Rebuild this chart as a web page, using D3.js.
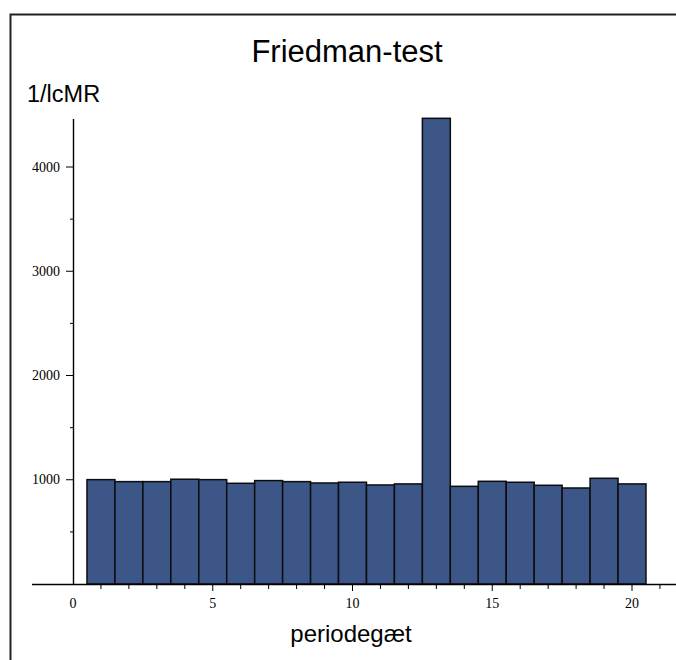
<!DOCTYPE html>
<html><head><meta charset="utf-8">
<script src="https://cdn.jsdelivr.net/npm/d3@7"></script>
<style>body{margin:0;background:#fff}svg{display:block}</style>
</head><body>
<script>
const periods = d3.range(1, 21);
const values = [1001, 982, 982, 1005, 1001, 966, 992, 982, 969, 976, 950, 960, 4467, 937, 985, 976, 947, 921, 1014, 960];
const xTickLabels = [0, 5, 10, 15, 20];
const yTickLabels = [1000, 2000, 3000, 4000];
const title = "Friedman-test";
const yLabel = "1/lcMR";
const xLabel = "periodegæt";

const W = 676, H = 660;
const svg = d3.select("body").append("svg").attr("width", W).attr("height", H);

const x = d3.scaleLinear().domain([0, 20]).range([73, 632]);
const y = d3.scaleLinear().domain([0, 4000]).range([584, 167]);

// frame
svg.append("path").attr("d", `M10.5,660 V14.5 H676`).attr("fill", "none")
  .attr("stroke", "#222").attr("stroke-width", 2);

// titles
svg.append("text").attr("x", 347).attr("y", 62).attr("text-anchor", "middle")
  .attr("font-family", "Liberation Sans, Arial, sans-serif").attr("font-size", 31)
  .attr("fill", "#000").text(title);
svg.append("text").attr("x", 27).attr("y", 102)
  .attr("font-family", "Liberation Sans, Arial, sans-serif").attr("font-size", 23.5)
  .attr("fill", "#000").text(yLabel);
svg.append("text").attr("x", 351).attr("y", 642).attr("text-anchor", "middle")
  .attr("font-family", "Liberation Sans, Arial, sans-serif").attr("font-size", 24)
  .attr("fill", "#000").text(xLabel);

// bars
const bw = x(1) - x(0);
svg.append("g").selectAll("rect").data(periods).join("rect")
  .attr("x", d => x(d - 0.5))
  .attr("y", (d, i) => y(values[i]))
  .attr("width", bw)
  .attr("height", (d, i) => y(0) - y(values[i]))
  .attr("fill", "#3c5688")
  .attr("stroke", "#0d0d0d").attr("stroke-width", 1.5);

// x axis
const xAxis = svg.append("g");
xAxis.append("line").attr("x1", 32).attr("x2", 676).attr("y1", 584.5).attr("y2", 584.5)
  .attr("stroke", "#000").attr("stroke-width", 1.4);
xAxis.selectAll("line.t").data(d3.range(1, 22)).join("line").attr("class", "t")
  .attr("x1", d => x(d)).attr("x2", d => x(d))
  .attr("y1", 584).attr("y2", d => d % 5 === 0 ? 591 : 589)
  .attr("stroke", "#000").attr("stroke-width", 1);
xAxis.selectAll("text").data(xTickLabels).join("text")
  .attr("x", d => x(d)).attr("y", 608).attr("text-anchor", "middle")
  .attr("font-family", "Liberation Serif, Times New Roman, serif").attr("font-size", 14)
  .text(d => d);

// y axis
const yAxis = svg.append("g");
yAxis.append("line").attr("x1", 73.5).attr("x2", 73.5).attr("y1", 119).attr("y2", 585)
  .attr("stroke", "#000").attr("stroke-width", 1.4);
yAxis.selectAll("line.t").data(d3.range(500, 4500, 500)).join("line").attr("class", "t")
  .attr("x1", d => d % 1000 === 0 ? 66 : 70).attr("x2", 73)
  .attr("y1", d => y(d)).attr("y2", d => y(d))
  .attr("stroke", "#000").attr("stroke-width", 1);
yAxis.selectAll("text").data(yTickLabels).join("text")
  .attr("x", 60).attr("y", d => y(d) + 4.5).attr("text-anchor", "end")
  .attr("font-family", "Liberation Serif, Times New Roman, serif").attr("font-size", 14)
  .text(d => d);
</script>
</body></html>
